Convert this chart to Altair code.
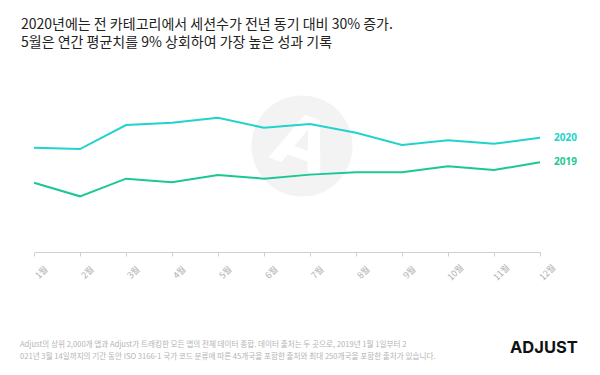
import altair as alt
import pandas as pd

months = ["1월", "2월", "3월", "4월", "5월", "6월", "7월", "8월", "9월", "10월", "11월", "12월"]
v2020 = [54.3, 53.6, 66.1, 67.3, 69.9, 64.7, 66.7, 62.1, 55.7, 58.2, 56.4, 59.5]
v2019 = [36.1, 29.0, 38.2, 36.3, 40.1, 38.2, 40.3, 41.5, 41.5, 44.6, 42.7, 46.7]
series = ["2020", "2019"]
colors = ["#22d3cd", "#1cc796"]
title_lines = ["2020년에는 전 카테고리에서 세션수가 전년 동기 대비 30% 증가.",
               "5월은 연간 평균치를 9% 상회하여 가장 높은 성과 기록"]
footer_lines = ["Adjust의 상위 2,000개 앱과 Adjust가 트래킹한 모든 앱의 전체 데이터 종합. 데이터 출처는 두 곳으로, 2019년 1월 1일부터 2",
                "021년 3월 14일까지의 기간 동안 ISO 3166-1 국가 코드 분류에 따른 45개국을 포함한 출처와 최대 250개국을 포함한 출처가 있습니다."]

rows = []
for m, a, b in zip(months, v2020, v2019):
    rows.append({"month": m, "series": "2020", "value": a})
    rows.append({"month": m, "series": "2019", "value": b})
df = pd.DataFrame(rows)

FONT = "Noto Sans CJK KR"
W, H = 506, 192

x = alt.X("month:N", sort=months, scale=alt.Scale(type="point", padding=0),
          axis=alt.Axis(title=None, labelAngle=-45, labelAlign="center", labelBaseline="middle",
                        labelPadding=16, labelOffset=7, labelColor="#b0b0b0", labelFontSize=9,
                        labelFont=FONT, domainColor="#d0d0d0", tickColor="#d0d0d0", tickSize=4,
                        grid=False))
y = alt.Y("value:Q", scale=alt.Scale(domain=[0, 100]), axis=None)
color = alt.Color("series:N", scale=alt.Scale(domain=series, range=colors), legend=None)

base = alt.Chart(df)

circle = alt.Chart(pd.DataFrame({"k": [0]})).mark_circle(color="#f3f3f3", opacity=1, size=10200).encode(
    x=alt.value(268), y=alt.value(86))
logo = alt.Chart(pd.DataFrame({"t": ["A"]})).mark_text(
    color="#ffffff", font="DejaVu Sans", fontWeight="bold", fontSize=72, angle=20, baseline="middle", align="center"
).encode(x=alt.value(268), y=alt.value(86), text="t:N")

lines = base.mark_line(strokeWidth=2).encode(x=x, y=y, color=color)
labels = base.transform_filter(alt.datum.month == "12월").mark_text(
    align="left", dx=14, fontSize=10, fontWeight="bold", font="Noto Sans"
).encode(x=x, y=y, color=color, text="series:N")

tdf = pd.DataFrame({"t": title_lines, "i": [0, 1]})
titles = alt.Chart(tdf).mark_text(align="left", baseline="middle", font=FONT, fontSize=14,
                                  color="#222222").encode(
    x=alt.value(-13),
    y=alt.Y("i:O", scale=alt.Scale(type="point", range=[-35.5, -17], padding=0), axis=None),
    text="t:N")

fdf = pd.DataFrame({"t": footer_lines, "i": [0, 1]})
footer = alt.Chart(fdf).mark_text(align="left", baseline="middle", font=FONT, fontSize=7.6,
                                  color="#b4b4b4").encode(
    x=alt.value(-14),
    y=alt.Y("i:O", scale=alt.Scale(type="point", range=[285, 297], padding=0), axis=None),
    text="t:N")

brand = alt.Chart(pd.DataFrame({"t": ["ADJUST"]})).mark_text(
    align="left", baseline="middle", font="Inter", fontWeight="bold", fontSize=16.5, color="#111111"
).encode(x=alt.value(476), y=alt.value(288), text="t:N")

chart = alt.layer(circle, logo, lines, labels, titles, footer, brand).resolve_scale(y="independent").properties(
    width=W, height=H,
    autosize=alt.AutoSizeParams(type="none"),
    padding={"left": 34, "top": 60, "right": 60, "bottom": 123},
    background="#ffffff",
).configure_view(stroke=None)

chart.save("out.html", embed_options={"renderer": "svg", "actions": False})
